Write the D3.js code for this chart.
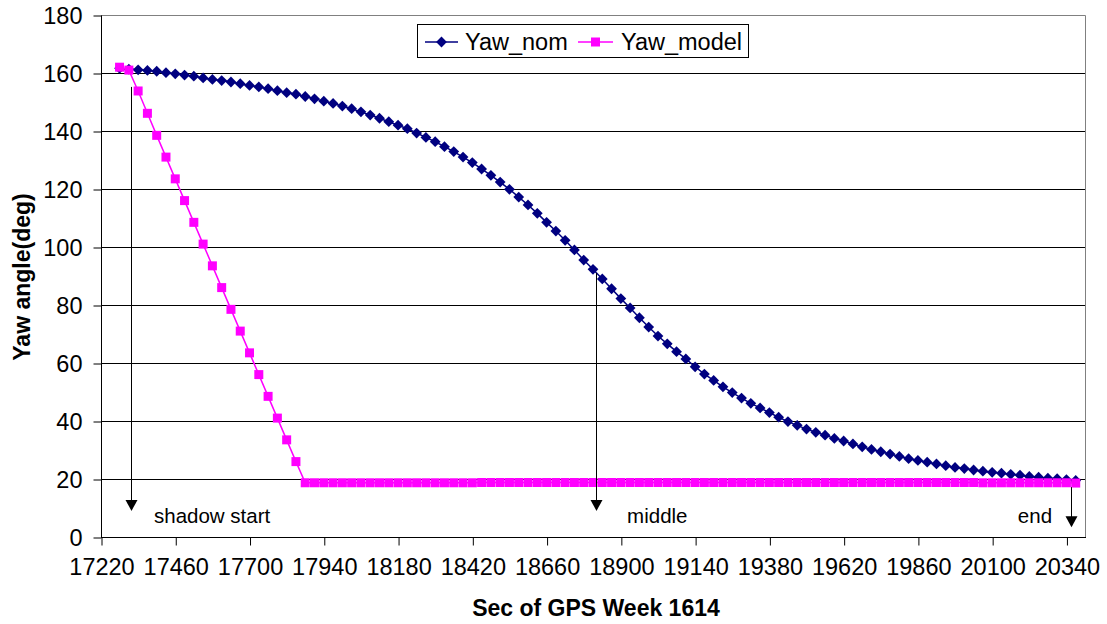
<!DOCTYPE html>
<html>
<head>
<meta charset="utf-8">
<script src="https://cdn.jsdelivr.net/npm/d3@7"></script>
<style>
  html, body { margin: 0; padding: 0; background: #fff; }
  svg { display: block; font-family: "Liberation Sans", Arial, sans-serif; }
</style>
</head>
<body>
<svg id="chart" width="1107" height="624"></svg>
<script>
// sec of GPS week, one sample every 30 s
var seconds = [
  17280, 17310, 17340, 17370, 17400, 17430, 17460, 17490, 17520, 17550,
  17580, 17610, 17640, 17670, 17700, 17730, 17760, 17790, 17820, 17850,
  17880, 17910, 17940, 17970, 18000, 18030, 18060, 18090, 18120, 18150,
  18180, 18210, 18240, 18270, 18300, 18330, 18360, 18390, 18420, 18450,
  18480, 18510, 18540, 18570, 18600, 18630, 18660, 18690, 18720, 18750,
  18780, 18810, 18840, 18870, 18900, 18930, 18960, 18990, 19020, 19050,
  19080, 19110, 19140, 19170, 19200, 19230, 19260, 19290, 19320, 19350,
  19380, 19410, 19440, 19470, 19500, 19530, 19560, 19590, 19620, 19650,
  19680, 19710, 19740, 19770, 19800, 19830, 19860, 19890, 19920, 19950,
  19980, 20010, 20040, 20070, 20100, 20130, 20160, 20190, 20220, 20250,
  20280, 20310, 20340, 20370
];

var yawNom = [
  161.6, 161.3, 161.1, 160.9, 160.6, 160.1, 159.7, 159.3, 158.9, 158.3,
  157.8, 157.4, 156.9, 156.3, 155.7, 155.2, 154.6, 153.9, 153.2, 152.7,
  151.9, 151.1, 150.3, 149.5, 148.6, 147.7, 146.6, 145.5, 144.4, 143.2,
  142.0, 140.8, 139.3, 137.8, 136.3, 134.6, 132.9, 131.0, 129.1, 126.9,
  124.7, 122.4, 119.9, 117.2, 114.5, 111.6, 108.5, 105.5, 102.3, 99.0,
  95.5, 92.3, 89.0, 85.6, 82.2, 79.0, 75.6, 72.4, 69.3, 66.6,
  63.9, 61.4, 58.7, 56.2, 54.0, 51.8, 49.8, 47.9, 46.1, 44.5,
  42.9, 41.3, 39.8, 38.5, 37.2, 36.1, 35.1, 34.0, 33.1, 32.1,
  31.1, 30.2, 29.4, 28.6, 27.8, 27.0, 26.4, 25.8, 25.2, 24.6,
  24.0, 23.6, 23.1, 22.7, 22.3, 22.0, 21.6, 21.3, 20.9, 20.6,
  20.3, 20.1, 19.8, 19.5
];

var yawModel = [
  162.0, 161.0, 153.8, 146.1, 138.5, 131.0, 123.5, 116.0, 108.5, 101.0,
  93.5, 86.0, 78.5, 71.0, 63.5, 56.0, 48.5, 41.0, 33.5, 26.0,
  18.7, 18.7, 18.7, 18.7, 18.7, 18.7, 18.7, 18.7, 18.7, 18.7,
  18.7, 18.7, 18.7, 18.7, 18.7, 18.7, 18.7, 18.7, 18.7, 18.8,
  18.8, 18.8, 18.8, 18.8, 18.8, 18.8, 18.8, 18.8, 18.8, 18.8,
  18.8, 18.8, 18.8, 18.8, 18.8, 18.8, 18.8, 18.8, 18.8, 18.8,
  18.8, 18.8, 18.8, 18.8, 18.8, 18.8, 18.8, 18.8, 18.8, 18.8,
  18.8, 18.8, 18.8, 18.8, 18.8, 18.8, 18.8, 18.8, 18.8, 18.8,
  18.8, 18.8, 18.8, 18.8, 18.8, 18.8, 18.8, 18.8, 18.8, 18.8,
  18.8, 18.8, 18.8, 18.7, 18.7, 18.7, 18.7, 18.7, 18.7, 18.7,
  18.7, 18.7, 18.7, 18.6
];

var xTicks = [17220, 17460, 17700, 17940, 18180, 18420, 18660, 18900, 19140, 19380, 19620, 19860, 20100, 20340];
var yTicks = [0, 20, 40, 60, 80, 100, 120, 140, 160, 180];

// arrows: where they point (seconds), line top and tip (deg)
var markLabels = ['shadow start', 'middle', 'end'];
var markSeconds = [17317, 18820, 20355];
var markTop = [155.2, 91.0, 17.2];
var markTip = [9.0, 9.0, 3.4];

var svg = d3.select('#chart'),
    plotL = 101, plotR = 1085, plotT = 15, plotB = 537;

var x = d3.scaleLinear().domain([17220, 20400]).range([plotL, plotR]),
    y = d3.scaleLinear().domain([0, 180]).range([plotB, plotT]);

svg.append('rect').attr('width', 1107).attr('height', 624).attr('fill', '#fff');

// grid
svg.append('g')
  .selectAll('line')
  .data(yTicks.filter(function(d) { return d > 0 && d < 180; }))
  .enter().append('line')
    .attr('x1', plotL).attr('x2', plotR)
    .attr('y1', function(d) { return Math.round(y(d)) + 0.5; })
    .attr('y2', function(d) { return Math.round(y(d)) + 0.5; })
    .attr('stroke', '#000').attr('stroke-width', 1);

// plot border top / right
svg.append('path')
  .attr('d', 'M' + plotL + ',' + (plotT + 0.5) + 'H' + (plotR + 0.5) + 'V' + plotB)
  .attr('fill', 'none').attr('stroke', '#808080').attr('stroke-width', 1);

// axes
var xAxis = svg.append('g')
  .attr('transform', 'translate(0.5,' + (plotB + 0.5) + ')')
  .call(d3.axisBottom(x).tickValues(xTicks).tickSize(8).tickSizeOuter(0).tickPadding(13).tickFormat(d3.format('d')));

var yAxis = svg.append('g')
  .attr('transform', 'translate(' + (plotL + 0.5) + ',0.5)')
  .call(d3.axisLeft(y).tickValues(yTicks).tickSize(8).tickSizeOuter(0).tickPadding(11));

xAxis.select('.domain').attr('d', 'M' + (plotL - 0.5) + ',0H' + (plotR + 0.5));
yAxis.select('.domain').attr('d', 'M0,' + plotB + 'V' + plotT);
[xAxis, yAxis].forEach(function(a) {
  a.selectAll('.domain, line').attr('stroke', '#000');
  a.selectAll('text').attr('fill', '#000').style('font-size', '23.5px').style('font-family', '"Liberation Sans", Arial, sans-serif');
});
yAxis.selectAll('text').attr('dy', '0.35em');

// axis titles
svg.append('text')
  .attr('x', (plotL + plotR) / 2 + 3).attr('y', 616)
  .attr('text-anchor', 'middle')
  .style('font-size', '23px').style('font-weight', 'bold')
  .text('Sec of GPS Week 1614');

svg.append('text')
  .attr('transform', 'translate(30,' + ((plotT + plotB) / 2 + 1) + ') rotate(-90)')
  .attr('text-anchor', 'middle')
  .style('font-size', '23px').style('font-weight', 'bold')
  .text('Yaw angle(deg)');

// series
var nomData = seconds.map(function(s, i) { return { t: s, v: yawNom[i] }; }),
    modelData = seconds.map(function(s, i) { return { t: s, v: yawModel[i] }; });

var line = d3.line()
  .x(function(d) { return x(d.t); })
  .y(function(d) { return y(d.v); });

var diamond = d3.symbol().type(d3.symbolSquare).size(58),
    square = d3.symbol().type(d3.symbolSquare).size(81);

svg.append('path').datum(nomData)
  .attr('d', line).attr('fill', 'none').attr('stroke', '#000080').attr('stroke-width', 1.5);
svg.append('g').selectAll('path').data(nomData).enter().append('path')
  .attr('d', diamond)
  .attr('transform', function(d) { return 'translate(' + x(d.t) + ',' + y(d.v) + ') rotate(45)'; })
  .attr('fill', '#000080');

svg.append('path').datum(modelData)
  .attr('d', line).attr('fill', 'none').attr('stroke', '#ff00ff').attr('stroke-width', 1.5);
svg.append('g').selectAll('path').data(modelData).enter().append('path')
  .attr('d', square)
  .attr('transform', function(d) { return 'translate(' + x(d.t) + ',' + y(d.v) + ')'; })
  .attr('fill', '#ff00ff');

// arrows + labels
var marks = markLabels.map(function(l, i) {
  return { label: l, t: markSeconds[i], top: markTop[i], tip: markTip[i] };
});

var mark = svg.append('g').selectAll('g').data(marks).enter().append('g');

mark.append('line')
  .attr('x1', function(d) { return Math.round(x(d.t)) + 0.5; })
  .attr('x2', function(d) { return Math.round(x(d.t)) + 0.5; })
  .attr('y1', function(d) { return y(d.top); })
  .attr('y2', function(d) { return y(d.tip) - 6; })
  .attr('stroke', '#000').attr('stroke-width', 1);

mark.append('path')
  .attr('d', function(d) {
    var cx = Math.round(x(d.t)) + 0.5, ty = y(d.tip);
    return 'M' + (cx - 6) + ',' + (ty - 11) + 'L' + (cx + 6) + ',' + (ty - 11) + 'L' + cx + ',' + ty + 'Z';
  })
  .attr('fill', '#000');

mark.append('text')
  .attr('x', function(d, i) { return x(d.t) + (i === 0 ? 23 : i === 1 ? 31 : -19); })
  .attr('y', y(0) - 14)
  .attr('text-anchor', function(d, i) { return i === 2 ? 'end' : 'start'; })
  .style('font-size', '20.5px')
  .text(function(d) { return d.label; });

// legend
var legend = svg.append('g');
legend.append('rect')
  .attr('x', 417.5).attr('y', 24.5).attr('width', 331).attr('height', 33)
  .attr('fill', '#fff').attr('stroke', '#000').attr('stroke-width', 1);

var legendItems = [
  { name: 'Yaw_nom', color: '#000080', sym: diamond, rot: 45, x0: 425, x1: 458, tx: 465 },
  { name: 'Yaw_model', color: '#ff00ff', sym: square, rot: 0, x0: 578, x1: 613, tx: 621 }
];

legendItems.forEach(function(it) {
  legend.append('line')
    .attr('x1', it.x0).attr('x2', it.x1).attr('y1', 42).attr('y2', 42)
    .attr('stroke', it.color).attr('stroke-width', 1.5);
  legend.append('path')
    .attr('d', it.sym)
    .attr('transform', 'translate(' + ((it.x0 + it.x1) / 2) + ',42) rotate(' + it.rot + ')')
    .attr('fill', it.color);
  legend.append('text')
    .attr('x', it.tx).attr('y', 49.5)
    .style('font-size', '23.5px')
    .text(it.name);
});
</script>
</body>
</html>
